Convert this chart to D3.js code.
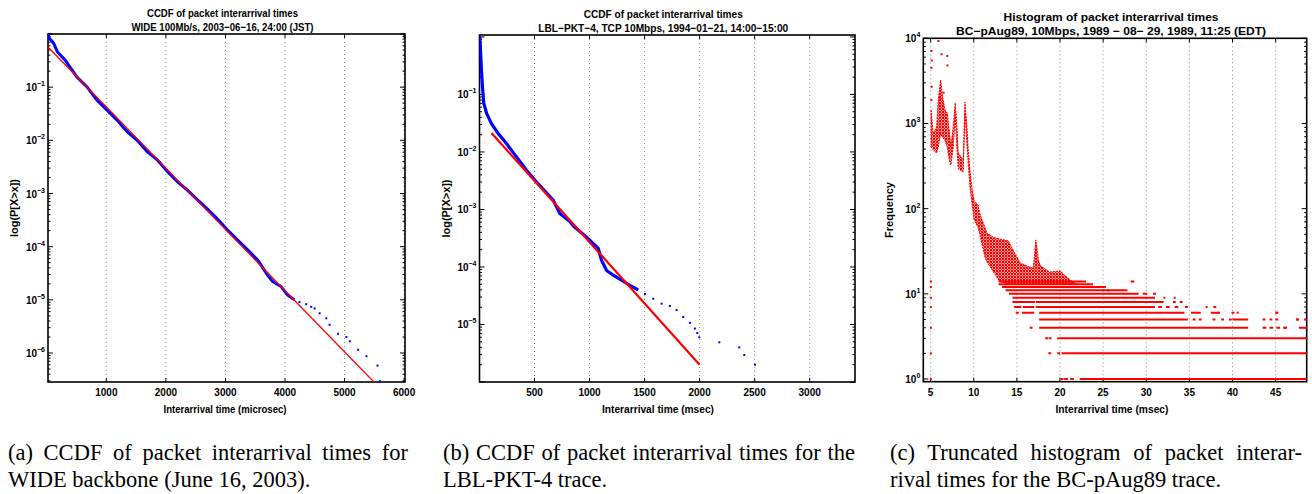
<!DOCTYPE html>
<html>
<head>
<meta charset="utf-8">
<script src="https://cdn.jsdelivr.net/npm/d3@7"></script>
<style>
body { margin: 0; background: #fff; }
text { font-family: "Liberation Sans", Arial, sans-serif; }
.cap { font-family: "Liberation Serif", "Times New Roman", serif; font-size: 22.5px; }
</style>
</head>
<body>
<script>
// ---- panel (a) WIDE: CCDF, x in microsec
const wideX = [22, 44, 111, 179, 309, 506, 675, 843, 1012, 1180, 1349, 1518, 1686, 1855, 2024, 2192, 2361, 2530, 2698, 2867, 3035, 3204, 3373, 3541, 3710, 3794, 3934, 4047, 4159];
const wideP = [0.99, 0.82, 0.68, 0.46, 0.32, 0.155, 0.101, 0.057, 0.037, 0.024, 0.0145, 0.010, 0.0061, 0.0043, 0.0026, 0.00167, 0.00116, 0.00076, 0.00051, 0.00033, 0.000205, 0.000133, 8.7e-5, 5.6e-5, 2.9e-5, 2.2e-5, 1.78e-5, 1.23e-5, 1.0e-5];
const wideTailX = [4243, 4356, 4440, 4497, 4581, 4693, 4749, 4890, 5031, 5087, 5228, 5368, 5553, 5592];
const wideTailP = [9.1e-6, 8.3e-6, 7.4e-6, 6.9e-6, 5.6e-6, 4.5e-6, 3.4e-6, 2.3e-6, 2.0e-6, 1.66e-6, 1.15e-6, 8.7e-7, 5.8e-7, 2.95e-7];
const wideFitX = [0, 5500];
const wideFitP = [0.6, 2.8e-7];

// ---- panel (b) LBL-PKT-4: CCDF, x in msec
const lblX = [3, 9, 18, 27, 39, 64, 109, 170, 245, 336, 427, 518, 670, 730, 821, 851, 973, 1079, 1109, 1155, 1215, 1291, 1366, 1442];
const lblP = [1.0, 0.59, 0.26, 0.135, 0.070, 0.047, 0.031, 0.021, 0.014, 0.0082, 0.0048, 0.0030, 0.00145, 0.00085, 0.00062, 0.00052, 0.00033, 0.00021, 0.00013, 8.7e-5, 7.2e-5, 5.9e-5, 4.8e-5, 4.0e-5];
const lblTailX = [1503, 1579, 1655, 1730, 1791, 1851, 1912, 1957, 1979, 1997, 2179, 2360, 2406, 2503, 3024];
const lblTailP = [3.4e-5, 2.8e-5, 2.3e-5, 2.1e-5, 1.78e-5, 1.35e-5, 1.07e-5, 8.5e-6, 7.1e-6, 6.0e-6, 4.9e-6, 4.0e-6, 2.95e-6, 2.0e-6, 1.0e-6];
const lblFitX = [109, 2000];
const lblFitP = [0.0214, 2.0e-6];

// ---- panel (c) BC-pAug89: histogram, x in msec
const histX     = [5.05, 5.3, 5.7, 5.88, 6.16, 6.39, 6.66, 6.93, 7.16, 7.35, 7.62, 7.85, 8.0, 8.2, 8.48, 8.78, 8.98, 9.18, 9.36, 9.56, 9.76, 10.03, 10.5, 10.7, 11.3, 11.5, 12.3, 13.0, 14.0, 14.6, 15.4, 16.5, 16.9, 17.2, 17.5, 17.7, 18.8, 20.0, 21.2, 22.0];
const histUpper = [1440, 760, 910, 1880, 3240, 2050, 1440, 1320, 830, 530, 910, 1740, 1100, 450, 410, 375, 1780, 1000, 490, 280, 180, 125, 110, 87, 60, 52, 46, 44, 42, 32, 23, 20.6, 20, 43, 25, 21.5, 18, 18.6, 14.4, 13];
const histLower = [530, 490, 450, 530, 760, 690, 630, 530, 375, 325, 530, 1200, 630, 295, 280, 270, 1320, 630, 340, 180, 125, 75, 60, 50, 27, 24, 18, 14, 13, 13, 13, 13, 13, 13, 13, 13, 13, 13, 13, 13];
// integer-frequency rows: [frequency, [from, to], ...]
const histRows = [
  [1, [20.2, 20.3], [20.6, 20.8], [21.3, 21.5], [22.4, 48.6]],
  [2, [18.76, 18.86], [19.8, 19.9], [20.3, 48.6]],
  [3, [18.4, 18.5], [18.8, 18.9], [19.8, 48.6]],
  [4, [16.6, 16.7], [17.7, 41.7], [43.6, 43.8], [44.4, 44.6], [45.2, 45.4], [46.0, 46.2], [47.8, 48.6]],
  [5, [17.7, 34.7], [35.5, 35.6], [36.2, 36.3], [37.8, 37.9], [38.8, 38.9], [39.7, 39.8], [40.1, 41.7], [43.6, 43.7], [44.4, 44.5], [45.1, 45.2], [47.5, 47.6], [48.4, 48.6]],
  [6, [15.0, 15.1], [15.7, 16.9], [17.7, 34.3], [35.3, 36.2], [37.6, 38.4], [40.0, 40.1], [45.1, 45.2]],
  [7, [14.8, 15.4], [15.8, 16.9], [17.3, 30.9], [31.5, 31.7], [32.4, 32.6], [33.4, 33.6], [34.6, 34.7], [37.9, 38.0]],
  [8, [14.6, 17.0], [17.3, 31.9], [33.2, 33.3], [34.0, 34.1]],
  [9, [14.6, 30.9]],
  [10, [14.2, 29.0], [29.7, 29.8], [30.9, 31.0]],
  [11, [13.8, 27.5]],
  [12, [13.4, 25.2]],
  [13, [13.0, 23.7]],
  [14, [13.0, 22.9], [28.3, 28.5]]
];
const histDotX = [5.03, 5.03, 5.03, 5.03, 5.03, 5.03, 5.03, 5.1, 5.12, 5.1, 5.12, 5.1, 5.9, 6.27, 6.93, 6.95, 6.5, 6.1, 27.7, 25.0, 25.6, 30.0, 32.1, 33.3, 37.0, 38.4, 40.6, 45.1, 47.5, 46.1];
const histDotF = [1, 2, 4, 7, 9, 12, 14, 7100, 5500, 4500, 2700, 1880, 9300, 6500, 6200, 4800, 2300, 2000, 11, 11, 11, 10, 9, 9, 7, 6, 6, 6, 5, 4];

const captions = [
  ["(a) CCDF of packet interarrival times for", "WIDE backbone (June 16, 2003)."],
  ["(b) CCDF of packet interarrival times for the", "LBL-PKT-4 trace."],
  ["(c) Truncated histogram of packet interar-", "rival times for the BC-pAug89 trace."]
];

const svg = d3.select("body").append("svg")
  .attr("width", 1312)
  .attr("height", 494);

// speckle fill for the dense histogram cloud
const pat = svg.append("defs").append("pattern")
  .attr("id", "speckle").attr("patternUnits", "userSpaceOnUse")
  .attr("width", 3).attr("height", 3);
pat.append("rect").attr("width", 3).attr("height", 3).attr("fill", "#ff9a9a");
pat.append("rect").attr("width", 2).attr("height", 2).attr("fill", "#ff0000");
pat.append("rect").attr("x", 2).attr("y", 2).attr("width", 1).attr("height", 1).attr("fill", "#ff2020");

const minus = "\u2212";

function makePanel(cfg, id) {
  const g = svg.append("g");
  const x = d3.scaleLinear().domain(cfg.xDomain).range([cfg.left, cfg.right]);
  const y = d3.scaleLog().domain(cfg.yDomain).range([cfg.bottom, cfg.top]);

  g.append("clipPath").attr("id", id)
    .append("rect")
    .attr("x", cfg.left).attr("y", cfg.top)
    .attr("width", cfg.right - cfg.left).attr("height", cfg.bottom - cfg.top);

  // vertical dotted grid
  g.selectAll(".grid").data(cfg.xTicks).join("line")
    .attr("x1", d => x(d)).attr("x2", d => x(d))
    .attr("y1", cfg.top).attr("y2", cfg.bottom)
    .attr("stroke", "#8a8a8a").attr("stroke-width", 1)
    .attr("stroke-dasharray", "1,3");

  // x ticks (bottom and top, inward)
  cfg.xTicks.forEach(t => {
    g.append("line").attr("x1", x(t)).attr("x2", x(t)).attr("y1", cfg.bottom).attr("y2", cfg.bottom - 4).attr("stroke", "#000");
    g.append("line").attr("x1", x(t)).attr("x2", x(t)).attr("y1", cfg.top).attr("y2", cfg.top + 4).attr("stroke", "#000");
    g.append("text").attr("x", x(t)).attr("y", cfg.bottom + 14)
      .attr("text-anchor", "middle").attr("font-size", 10).attr("font-weight", "bold")
      .text(t);
  });

  // log y ticks, major + minor, both sides
  const lo = Math.floor(Math.log10(cfg.yDomain[0]));
  const hi = Math.ceil(Math.log10(cfg.yDomain[1]));
  for (let e = lo; e <= hi; e++) {
    for (let m = 1; m <= 9; m++) {
      const v = m * Math.pow(10, e);
      if (v < cfg.yDomain[0] || v > cfg.yDomain[1]) continue;
      const len = m === 1 ? 5 : 2.5;
      g.append("line").attr("x1", cfg.left).attr("x2", cfg.left + len).attr("y1", y(v)).attr("y2", y(v)).attr("stroke", "#000");
      g.append("line").attr("x1", cfg.right).attr("x2", cfg.right - len).attr("y1", y(v)).attr("y2", y(v)).attr("stroke", "#000");
    }
  }
  cfg.yExps.forEach(e => {
    const t = g.append("text").attr("x", cfg.left - 3).attr("y", y(Math.pow(10, e)) + 4)
      .attr("text-anchor", "end").attr("font-size", 10).attr("font-weight", "bold");
    t.append("tspan").text("10");
    t.append("tspan").attr("dy", -5).attr("font-size", 7).text(e < 0 ? minus + (-e) : e);
  });

  // box
  g.append("rect").attr("x", cfg.left).attr("y", cfg.top)
    .attr("width", cfg.right - cfg.left).attr("height", cfg.bottom - cfg.top)
    .attr("fill", "none").attr("stroke", "#000").attr("stroke-width", 1.6);

  // titles
  const cx = (cfg.left + cfg.right) / 2 - 4;
  cfg.title.forEach((s, i) => {
    g.append("text").attr("x", cx).attr("y", cfg.top - 17 + i * 14)
      .attr("text-anchor", "middle").attr("font-size", 11).attr("font-weight", "bold")
      .attr("textLength", cfg.titleW[i]).attr("lengthAdjust", "spacingAndGlyphs")
      .text(s);
  });
  g.append("text").attr("x", cfg.xLabelX).attr("y", cfg.bottom + 31)
    .attr("text-anchor", "middle").attr("font-size", 10.5).attr("font-weight", "bold")
    .attr("textLength", cfg.xLabelW).attr("lengthAdjust", "spacingAndGlyphs")
    .text(cfg.xLabel);
  const ym = (cfg.top + cfg.bottom) / 2;
  g.append("text").attr("transform", `translate(${cfg.left - 30},${ym}) rotate(-90)`)
    .attr("text-anchor", "middle").attr("font-size", 10.5).attr("font-weight", "bold")
    .attr("textLength", cfg.yLabelW).attr("lengthAdjust", "spacingAndGlyphs")
    .text(cfg.yLabel);

  const plot = g.append("g").attr("clip-path", `url(#${id})`);
  return { x, y, plot };
}

// ---------- panel (a)
const A = makePanel({
  left: 48, right: 405, top: 34, bottom: 382,
  xDomain: [20, 6015], yDomain: [2.85e-7, 1],
  xTicks: [1000, 2000, 3000, 4000, 5000, 6000], yExps: [-1, -2, -3, -4, -5, -6],
  title: ["CCDF of packet interarrival times", "WIDE 100Mb/s, 2003\u221206\u221216, 24:00 (JST)"], titleW: [151, 182],
  xLabel: "Interarrival time (microsec)", xLabelX: 225, xLabelW: 123,
  yLabel: "log(P[X>x])", yLabelW: 58
}, "clipA");

const lineA = d3.line().x(d => A.x(d[0])).y(d => A.y(d[1]));
A.plot.append("path").datum(d3.zip(wideX, wideP))
  .attr("d", lineA).attr("fill", "none").attr("stroke", "#0000ff").attr("stroke-width", 3);
A.plot.append("path").datum(d3.zip(wideFitX, wideFitP))
  .attr("d", lineA).attr("fill", "none").attr("stroke", "#ff0000").attr("stroke-width", 1.3);
A.plot.selectAll(".tail").data(d3.zip(wideTailX, wideTailP)).join("rect")
  .attr("x", d => A.x(d[0]) - 1).attr("y", d => A.y(d[1]) - 1)
  .attr("width", 2).attr("height", 2).attr("fill", "#0000ff");

// ---------- panel (b)
const B = makePanel({
  left: 479.5, right: 855, top: 35, bottom: 382,
  xDomain: [0, 3412], yDomain: [1e-6, 1.08],
  xTicks: [500, 1000, 1500, 2000, 2500, 3000], yExps: [-1, -2, -3, -4, -5],
  title: ["CCDF of packet interarrival times", "LBL\u2212PKT\u22124, TCP 10Mbps, 1994\u221201\u221221, 14:00\u221215:00"], titleW: [159, 250],
  xLabel: "Interarrival time (msec)", xLabelX: 658, xLabelW: 112,
  yLabel: "log(P[X>x])", yLabelW: 58
}, "clipB");

const lineB = d3.line().x(d => B.x(d[0])).y(d => B.y(d[1]));
B.plot.append("path").datum(d3.zip(lblX, lblP))
  .attr("d", lineB).attr("fill", "none").attr("stroke", "#0000ff").attr("stroke-width", 3.2);
B.plot.append("path").datum(d3.zip(lblFitX, lblFitP))
  .attr("d", lineB).attr("fill", "none").attr("stroke", "#ff0000").attr("stroke-width", 2.2);
B.plot.selectAll(".tail").data(d3.zip(lblTailX, lblTailP)).join("rect")
  .attr("x", d => B.x(d[0]) - 1).attr("y", d => B.y(d[1]) - 1)
  .attr("width", 2).attr("height", 2).attr("fill", "#0000ff");

// ---------- panel (c)
const C = makePanel({
  left: 923.3, right: 1306.7, top: 38.3, bottom: 381.7,
  xDomain: [4.15, 48.6], yDomain: [0.93, 1e4],
  xTicks: [5, 10, 15, 20, 25, 30, 35, 40, 45], yExps: [0, 1, 2, 3, 4],
  title: ["Histogram of packet interarrival times", "BC\u2212pAug89, 10Mbps, 1989 \u2212 08\u2212 29, 1989, 11:25 (EDT)"], titleW: [215, 310],
  xLabel: "Interarrival time (msec)", xLabelX: 1112, xLabelW: 113,
  yLabel: "Frequency", yLabelW: 56
}, "clipC");

const cloud = d3.area()
  .x(d => C.x(d[0])).y0(d => C.y(d[2])).y1(d => C.y(d[1]));
C.plot.append("path").datum(d3.zip(histX, histUpper, histLower))
  .attr("d", cloud).attr("fill", "url(#speckle)")
  .attr("stroke", "#ff0000").attr("stroke-width", 1).attr("stroke-dasharray", "2,1");

histRows.forEach(r => {
  const f = r[0];
  r.slice(1).forEach(seg => {
    C.plot.append("line")
      .attr("x1", C.x(seg[0]) - 1).attr("x2", C.x(seg[1]) + 1)
      .attr("y1", C.y(f)).attr("y2", C.y(f))
      .attr("stroke", "#ff0000").attr("stroke-width", 2);
  });
});
C.plot.selectAll(".dot").data(d3.zip(histDotX, histDotF)).join("rect")
  .attr("x", d => C.x(d[0]) - 1).attr("y", d => C.y(d[1]) - 1)
  .attr("width", 2).attr("height", 2).attr("fill", "#ff0000");

// ---------- captions (first line justified)
const capX = [[8, 408], [443, 855], [890, 1302]];
captions.forEach((lines, i) => {
  lines.forEach((s, j) => {
    const t = svg.append("text").attr("class", "cap")
      .attr("x", capX[i][0]).attr("y", 460 + j * 27).text(s);
    if (j === 0) {
      const w = t.node().getComputedTextLength();
      const gaps = s.split(" ").length - 1;
      t.attr("word-spacing", (capX[i][1] - capX[i][0] - w) / gaps);
    }
  });
});
</script>
</body>
</html>
